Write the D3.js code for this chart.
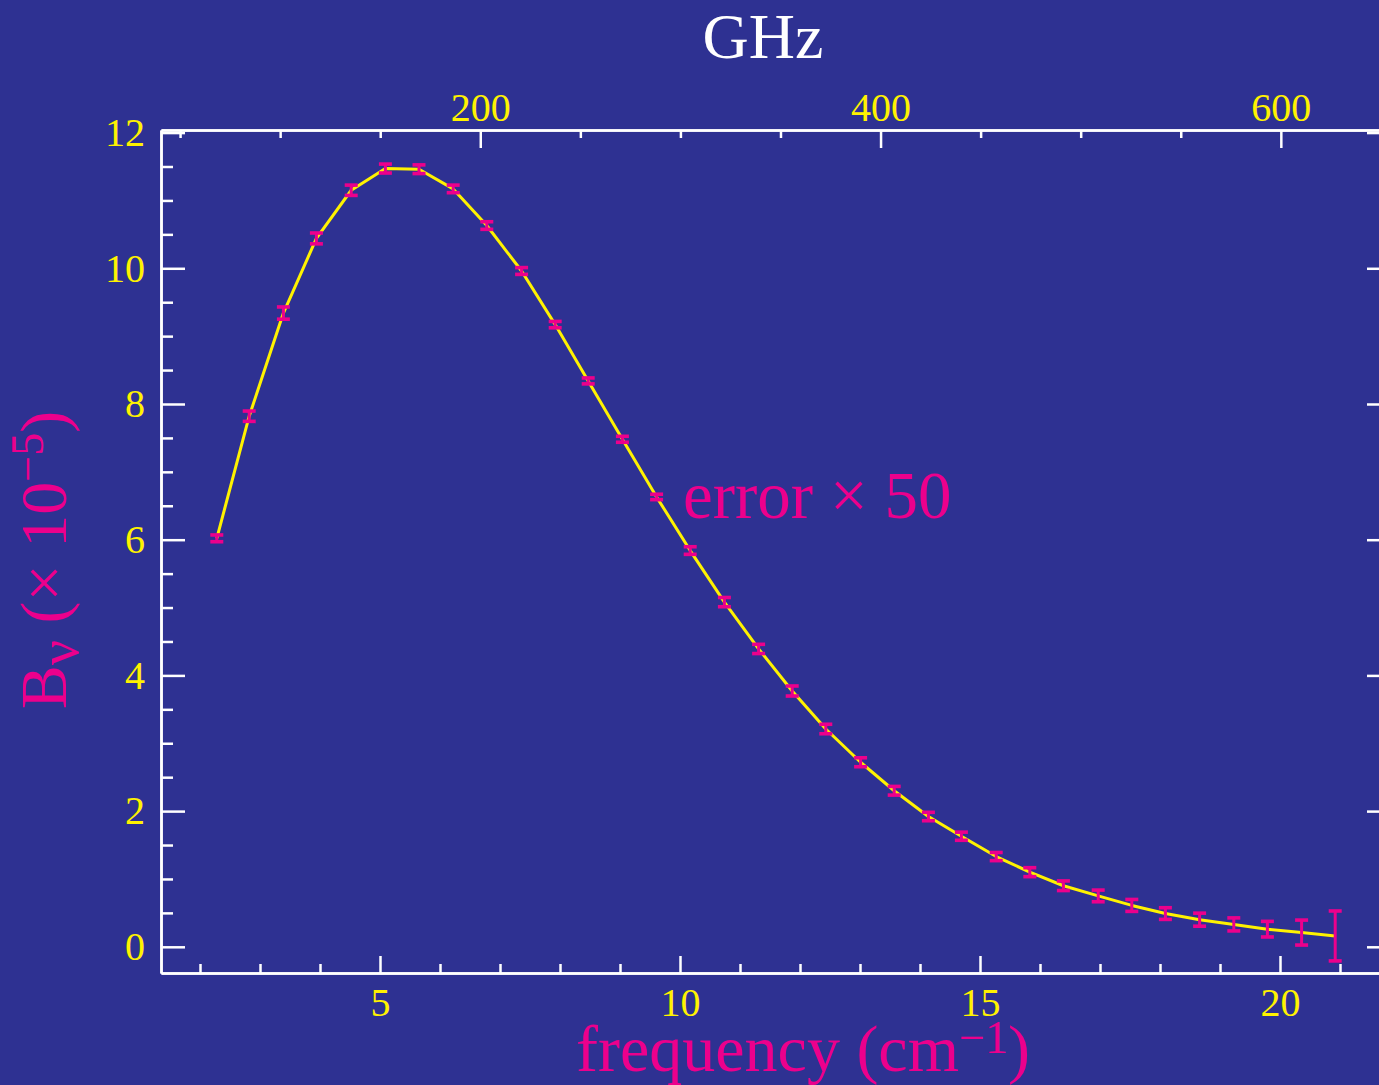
<!DOCTYPE html>
<html>
<head>
<meta charset="utf-8">
<script src="https://cdn.jsdelivr.net/npm/d3@7"></script>
<style>
  html, body { margin: 0; padding: 0; background: #2E3192; }
  svg { display: block; }
  text { font-family: "Liberation Serif", "Times New Roman", serif; }
</style>
</head>
<body>
<svg id="chart" width="1379" height="1085"></svg>
<script>
// ---- data ----
const freq = [2.28, 2.82, 3.39, 3.94, 4.52, 5.09, 5.65, 6.22, 6.78, 7.36, 7.92, 8.47, 9.04, 9.61, 10.17, 10.74, 11.31, 11.87, 12.43, 13.01, 13.57, 14.14, 14.69, 15.27, 15.83, 16.39, 16.97, 17.53, 18.09, 18.66, 19.23, 19.79, 20.36, 20.92];
const bnu  = [6.02, 7.82, 9.34, 10.44, 11.15, 11.47, 11.46, 11.17, 10.63, 9.96, 9.17, 8.34, 7.48, 6.63, 5.84, 5.08, 4.39, 3.77, 3.21, 2.72, 2.30, 1.92, 1.63, 1.33, 1.10, 0.90, 0.75, 0.61, 0.49, 0.40, 0.33, 0.26, 0.21, 0.16];
const errX50 = [0.05, 0.076, 0.09, 0.08, 0.076, 0.066, 0.064, 0.056, 0.056, 0.05, 0.047, 0.044, 0.044, 0.04, 0.056, 0.068, 0.068, 0.074, 0.07, 0.066, 0.064, 0.062, 0.06, 0.06, 0.066, 0.071, 0.086, 0.088, 0.086, 0.096, 0.096, 0.115, 0.184, 0.368];

const xMajor = [5, 10, 15, 20];
const xMinor = [2, 3, 4, 6, 7, 8, 9, 11, 12, 13, 14, 16, 17, 18, 19, 21];
const yMajor = [0, 2, 4, 6, 8, 10, 12];
const yMinor = [0.5, 1, 1.5, 2.5, 3, 3.5, 4.5, 5, 5.5, 6.5, 7, 7.5, 8.5, 9, 9.5, 10.5, 11, 11.5];
const ghzMajor = [200, 400, 600];
const ghzMinor = [50, 100, 150, 250, 300, 350, 450, 500, 550, 650];
const CM_TO_GHZ = 29.9792;

// ---- layout ----
const BG = "#2E3192", YEL = "#FFF200", MAG = "#EC008C", WHITE = "#FFFFFF";
const L = 161, R = 1391, T = 130, B = 973;
const xDom = [1.35, 21.85];
const svg = d3.select("#chart");
svg.append("rect").attr("width", 1379).attr("height", 1085).attr("fill", BG);

const x = d3.scaleLinear().domain(xDom).range([L, R]);
const xg = d3.scaleLinear().domain(xDom.map(d => d * CM_TO_GHZ)).range([L, R]);
const y = d3.scaleLinear().domain([-0.386, 12.038]).range([B, T]);

function styleAxis(g, labels) {
  g.selectAll(".domain").attr("stroke", WHITE).attr("stroke-width", 2.5);
  g.selectAll(".tick line").attr("stroke", WHITE).attr("stroke-width", 2.5);
  g.selectAll(".tick text").attr("fill", YEL).attr("font-size", 40)
    .attr("font-family", "Liberation Serif, serif");
  if (!labels) g.selectAll(".tick text").remove();
}

// bottom
const gb = svg.append("g").attr("transform", `translate(0,${B})`);
gb.call(d3.axisBottom(x).tickValues(xMinor).tickSize(-9).tickSizeOuter(0).tickFormat(""));
styleAxis(gb, false);
const gb2 = svg.append("g").attr("transform", `translate(0,${B})`);
gb2.call(d3.axisBottom(x).tickValues(xMajor).tickSize(-17).tickSizeOuter(0).tickPadding(15).tickFormat(d3.format("d")));
styleAxis(gb2, true);

// top (GHz)
const gt = svg.append("g").attr("transform", `translate(0,${T})`);
gt.call(d3.axisTop(xg).tickValues(ghzMinor).tickSize(-8).tickSizeOuter(0).tickFormat(""));
styleAxis(gt, false);
const gt2 = svg.append("g").attr("transform", `translate(0,${T})`);
gt2.call(d3.axisTop(xg).tickValues(ghzMajor).tickSize(-18).tickSizeOuter(0).tickPadding(9).tickFormat(d3.format("d")));
styleAxis(gt2, true);

// left
const gl = svg.append("g").attr("transform", `translate(${L},0)`);
gl.call(d3.axisLeft(y).tickValues(yMinor).tickSize(-12).tickSizeOuter(0).tickFormat(""));
styleAxis(gl, false);
const gl2 = svg.append("g").attr("transform", `translate(${L},0)`);
gl2.call(d3.axisLeft(y).tickValues(yMajor).tickSize(-24).tickSizeOuter(0).tickPadding(16).tickFormat(d3.format("d")));
styleAxis(gl2, true);

// right
const gr = svg.append("g").attr("transform", `translate(${R},0)`);
gr.call(d3.axisRight(y).tickValues(yMinor).tickSize(-12).tickSizeOuter(0).tickFormat(""));
styleAxis(gr, false);
const gr2 = svg.append("g").attr("transform", `translate(${R},0)`);
gr2.call(d3.axisRight(y).tickValues(yMajor).tickSize(-24).tickSizeOuter(0).tickFormat(""));
styleAxis(gr2, false);

// ---- data line ----
const pts = freq.map((f, i) => ({ f, b: bnu[i], e: errX50[i] }));
svg.append("path")
  .datum(pts)
  .attr("fill", "none")
  .attr("stroke", YEL)
  .attr("stroke-width", 3)
  .attr("stroke-linejoin", "round")
  .attr("d", d3.line().x(d => x(d.f)).y(d => y(d.b)));

// ---- error bars ----
const eb = svg.append("g").attr("stroke", MAG);
const capW = 6.5;
pts.forEach(d => {
  const cx = x(d.f), yt = y(d.b + d.e), ybt = y(d.b - d.e);
  eb.append("line").attr("x1", cx).attr("x2", cx).attr("y1", yt).attr("y2", ybt).attr("stroke-width", 3);
  eb.append("line").attr("x1", cx - capW).attr("x2", cx + capW).attr("y1", yt).attr("y2", yt).attr("stroke-width", 3.6);
  eb.append("line").attr("x1", cx - capW).attr("x2", cx + capW).attr("y1", ybt).attr("y2", ybt).attr("stroke-width", 3.6);
});

// ---- titles ----
svg.append("text").attr("x", 763).attr("y", 58).attr("text-anchor", "middle")
  .attr("fill", WHITE).attr("font-size", 64).text("GHz");

const xt = svg.append("text").attr("x", 803).attr("y", 1071).attr("text-anchor", "middle")
  .attr("fill", MAG).attr("font-size", 66);
xt.append("tspan").text("frequency (cm");
xt.append("tspan").attr("font-size", 46).attr("dy", -18).text("\u22121");
xt.append("tspan").attr("dy", 18).text(")");

const yt = svg.append("text").attr("transform", "translate(66,560) rotate(-90)")
  .attr("text-anchor", "middle").attr("fill", MAG).attr("font-size", 66);
yt.append("tspan").text("B");
yt.append("tspan").attr("font-size", 56).attr("dy", 12).text("\u03BD");
yt.append("tspan").attr("dy", -12).text(" (\u00D7 10");
yt.append("tspan").attr("font-size", 46).attr("dy", -23).text("\u22125");
yt.append("tspan").attr("dy", 23).text(")");

svg.append("text").attr("x", 683).attr("y", 518).attr("fill", MAG)
  .attr("font-size", 67).text("error \u00D7 50");
</script>
</body>
</html>
